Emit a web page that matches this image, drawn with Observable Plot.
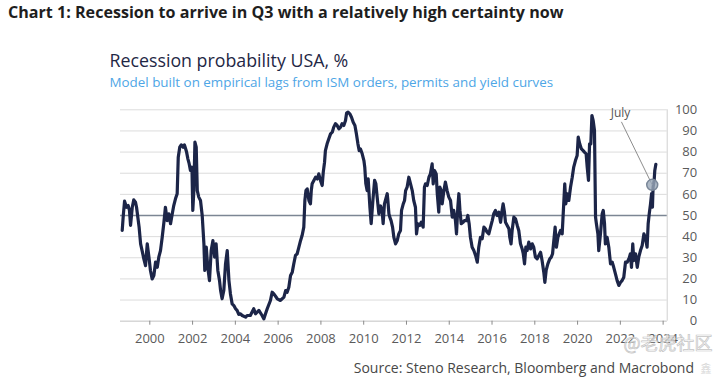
<!DOCTYPE html>
<html><head><meta charset="utf-8">
<script src="https://cdn.jsdelivr.net/npm/d3@7"></script>
<script src="https://cdn.jsdelivr.net/npm/@observablehq/plot@0.6"></script>
<style>
html,body{margin:0;padding:0;background:#fff;}
#chart{width:720px;height:384px;overflow:hidden;}
</style></head><body>
<div id="chart"></div>
<script>
const titleText = "Chart 1: Recession to arrive in Q3 with a relatively high certainty now";
const subtitleText = "Recession probability USA, %";
const noteText = "Model built on empirical lags from ISM orders, permits and yield curves";
const sourceText = "Source: Steno Research, Bloomberg and Macrobond";
const watermarkText = "@老虎社区";

const xDomain = [1998.63, 2024.19];
const xTicks = [2000, 2002, 2004, 2006, 2008, 2010, 2012, 2014, 2016, 2018, 2020, 2022, 2024];
const yTicks = [0, 10, 20, 30, 40, 50, 60, 70, 80, 90, 100];
const threshold = 50;

const years = [
1998.71,1998.76,1998.82,1998.91,1998.99,1999.05,1999.10,1999.18,1999.25,1999.33,1999.38,1999.44,1999.50,1999.57,1999.64,1999.72,1999.80,1999.88,1999.96,
2000.03,2000.11,2000.19,2000.27,2000.35,2000.42,2000.50,2000.58,2000.66,2000.73,2000.81,2000.89,2000.97,
2001.05,2001.12,2001.20,2001.28,2001.33,2001.40,2001.47,2001.56,2001.62,2001.72,2001.78,2001.84,2001.90,2001.97,
2002.01,2002.06,2002.11,2002.17,2002.22,2002.29,2002.37,2002.45,2002.53,2002.57,2002.64,2002.71,2002.79,2002.87,2002.95,
2003.03,2003.10,2003.18,2003.26,2003.31,2003.38,2003.46,2003.54,2003.62,2003.70,2003.77,2003.85,2003.93,
2004.01,2004.08,2004.16,2004.24,2004.32,2004.48,2004.55,2004.70,2004.86,2004.94,
2005.10,2005.25,2005.33,2005.41,2005.49,2005.64,2005.72,2005.80,2005.96,
2006.11,2006.27,2006.35,2006.42,2006.50,2006.58,2006.66,2006.73,2006.81,2006.89,2006.97,
2007.05,2007.12,2007.20,2007.25,2007.30,2007.36,2007.44,2007.51,2007.55,2007.59,2007.67,2007.75,2007.83,2007.90,2007.98,
2008.06,2008.11,2008.17,2008.21,2008.29,2008.37,2008.45,2008.53,2008.60,2008.68,2008.76,2008.84,2008.92,2008.99,
2009.07,2009.15,2009.20,2009.27,2009.35,2009.43,2009.51,2009.59,2009.66,2009.73,2009.79,2009.85,2009.93,
2010.01,2010.05,2010.10,2010.16,2010.21,2010.29,2010.35,2010.43,2010.51,2010.57,2010.63,2010.71,2010.79,2010.86,2010.91,2010.97,
2011.10,2011.13,2011.18,2011.22,2011.28,2011.35,2011.41,2011.49,2011.57,2011.64,2011.72,2011.77,2011.85,2011.91,2011.96,
2012.03,2012.11,2012.19,2012.27,2012.34,2012.42,2012.47,2012.53,2012.62,2012.69,2012.78,2012.84,2012.89,2012.97,
2013.05,2013.12,2013.20,2013.25,2013.31,2013.39,2013.44,2013.51,2013.56,2013.62,2013.67,2013.75,2013.82,2013.90,2013.98,
2014.06,2014.14,2014.21,2014.29,2014.34,2014.40,2014.45,2014.50,2014.56,2014.65,2014.71,2014.81,2014.87,2014.93,2014.99,
2015.07,2015.15,2015.23,2015.31,2015.38,2015.46,2015.54,2015.62,2015.69,2015.77,2015.85,2015.93,
2016.01,2016.08,2016.16,2016.24,2016.32,2016.40,2016.47,2016.52,2016.58,2016.63,2016.71,2016.79,2016.83,2016.89,2016.94,
2017.02,2017.10,2017.18,2017.25,2017.33,2017.41,2017.46,2017.52,2017.58,2017.64,2017.72,2017.80,2017.88,2017.95,
2018.03,2018.11,2018.19,2018.27,2018.34,2018.42,2018.47,2018.53,2018.61,2018.70,2018.77,2018.83,2018.89,2018.95,
2019.01,2019.08,2019.14,2019.20,2019.28,2019.36,2019.40,2019.45,2019.51,2019.59,2019.67,2019.75,2019.82,2019.90,2019.98,
2020.03,2020.10,2020.18,2020.26,2020.32,2020.40,2020.45,2020.51,2020.56,2020.62,2020.67,2020.73,2020.79,2020.84,2020.88,2020.95,2020.99,
2021.07,2021.15,2021.20,2021.26,2021.30,2021.38,2021.46,2021.54,2021.62,2021.69,2021.77,2021.85,2021.93,
2022.01,2022.08,2022.16,2022.24,2022.32,2022.40,2022.47,2022.52,2022.58,2022.63,2022.71,2022.79,2022.86,2022.94,
2023.02,2023.10,2023.17,2023.25,2023.30,2023.35,2023.41,2023.46,2023.50,2023.53,2023.58,2023.61,2023.66
];
const probability = [
42.9,50.0,56.8,53.9,54.7,52.3,45.3,53.9,57.4,56.3,53.9,49.2,44.5,36.6,33.4,29.5,26.3,36.6,30.3,
24.0,20.0,21.6,28.0,25.5,30.3,33.4,39.7,46.8,53.9,47.6,50.8,46.1,
50.8,54.7,57.9,60.3,77.6,82.3,83.4,82.3,83.4,80.0,76.8,74.5,71.3,72.9,
52.4,61.8,84.7,82.3,61.8,58.7,57.1,50.0,36.6,24.0,35.0,25.5,19.2,33.4,38.1,
30.3,36.6,24.0,19.2,14.5,10.6,14.5,27.1,33.4,19.2,12.9,8.2,7.4,
5.9,5.1,3.2,3.5,2.7,1.9,2.7,2.7,5.9,3.5,
5.1,2.7,1.1,3.5,5.9,9.8,13.7,12.9,10.6,
9.8,11.4,14.5,13.7,16.1,21.6,23.2,27.1,31.1,31.9,35.0,
38.2,40.5,44.5,57.1,61.8,62.6,57.1,55.5,61.8,65.0,66.6,68.1,67.3,69.7,66.6,
64.2,70.5,75.2,80.7,83.9,86.3,88.6,89.4,91.8,93.4,92.6,91.0,91.8,93.4,
92.6,94.9,98.4,98.9,98.1,96.5,94.1,92.6,88.6,83.9,80.7,81.5,79.2,
76.0,72.9,65.0,61.8,67.3,53.9,46.1,57.1,66.6,65.0,58.7,50.8,54.5,52.4,46.1,55.5,
60.3,57.1,50.8,49.2,47.6,44.5,39.7,36.6,38.2,41.3,42.9,52.4,55.5,57.1,61.8,
63.4,68.1,65.0,61.8,57.1,53.9,41.3,46.1,45.3,46.8,44.5,63.4,65.0,64.2,
68.1,69.7,74.4,65.0,71.3,69.7,60.3,51.6,63.4,61.8,55.5,61.8,65.8,61.8,58.7,
57.1,49.2,52.4,47.6,41.3,53.9,60.3,52.4,46.1,46.8,47.6,47.6,50.0,46.1,39.7,
35.0,33.4,31.1,27.9,35.0,39.7,39.0,44.5,43.7,42.1,41.3,44.5,
47.6,50.8,52.4,50.0,51.6,46.8,52.4,55.5,51.6,46.8,45.3,43.7,39.7,36.6,42.9,
49.2,48.4,45.3,42.9,36.6,34.2,31.9,27.1,35.0,33.4,37.4,34.2,36.6,35.0,
30.3,29.5,31.1,32.6,28.7,23.2,18.4,24.0,27.1,29.5,30.3,31.9,38.2,44.5,
35.0,39.7,41.3,42.9,41.3,57.1,65.0,55.5,60.3,57.1,63.4,68.1,72.9,76.0,78.4,
87.1,83.9,81.5,80.7,80.0,79.2,72.9,66.6,83.9,83.9,97.3,94.9,90.2,49.2,46.1,41.3,33.4,
41.3,50.8,52.4,46.1,36.6,39.7,35.0,27.1,27.9,25.5,22.4,19.2,16.9,
18.4,19.2,20.8,27.9,27.9,29.5,31.9,25.5,36.6,28.7,31.9,25.5,30.3,33.4,
35.8,41.3,39.7,35.0,46.1,50.8,55.5,60.3,53.9,63.4,66.6,71.3,74.2
];

// annotation "July"
const julyLabel = "July";
const julyPoint = {year: 2023.49, value: 64.5};
const julyTextPos = {year: 2022.01, value: 98.6};
const julyLineStart = {year: 2022.05, value: 94.3};

const data = years.map((y, i) => ({year: y, value: probability[i]}));

const chart = Plot.plot({
  width: 720,
  height: 384,
  marginLeft: 120,
  marginRight: 53.3,
  marginTop: 109.3,
  marginBottom: 63.3,
  x: {domain: xDomain, label: null},
  y: {domain: [0, 100], label: null},
  style: {fontFamily: "'Open Sans', sans-serif", fontSize: "13px", color: "#5a5a5a", background: "#fff", overflow: "visible"},
  marks: [
    Plot.gridY(yTicks, {stroke: "#dcdcdc", strokeOpacity: 1}),
    Plot.ruleY([0], {stroke: "#d0d0d0"}),
    Plot.ruleX([xDomain[1]], {stroke: "#d0d0d0"}),
    Plot.ruleY([threshold], {stroke: "#7c8694", strokeWidth: 1.6}),
    Plot.axisY(yTicks, {anchor: "right", tickSize: 0, tickPadding: 30, textAnchor: "end", fill: "#5a5a5a"}),
    Plot.axisX(xTicks, {anchor: "bottom", tickSize: 4, tickPadding: 9, tickFormat: d => String(d), stroke: "#8a8a8a", fill: "#5a5a5a"}),
    Plot.line(data, {x: "year", y: "value", stroke: "#1c2548", strokeWidth: 3.2, strokeLinejoin: "round", strokeLinecap: "round"}),
    Plot.link([{x1: julyLineStart.year, y1: julyLineStart.value, x2: julyPoint.year, y2: julyPoint.value}],
      {x1: "x1", y1: "y1", x2: "x2", y2: "y2", stroke: "#8d8d8d", strokeWidth: 1}),
    Plot.dot([julyPoint], {x: "year", y: "value", r: 5.5, fill: "#9aa7b8", fillOpacity: 0.8, stroke: "#7a8798", strokeWidth: 1.5}),
    Plot.text([julyTextPos], {x: "year", y: "value", text: () => julyLabel, fontSize: 12, fill: "#555", textAnchor: "middle"})
  ]
});

document.getElementById("chart").appendChild(chart);
const svg = d3.select(chart);
const addText = (txt, x, y, attrs) => {
  const t = svg.append("text").attr("x", x).attr("y", y).attr("text-anchor", "start").text(txt);
  for (const k in attrs) t.attr(k, attrs[k]);
  return t;
};
addText(titleText, 8, 17.5, {"font-family": "'Open Sans', sans-serif", "font-size": 16.1, "font-weight": 700, fill: "#1e1e1e"});
addText(subtitleText, 109.5, 66.5, {"font-family": "'Open Sans', sans-serif", "font-size": 17.8, fill: "#1f2745"});
addText(noteText, 109.5, 87.3, {"font-family": "'Open Sans', sans-serif", "font-size": 13.4, fill: "#4ea6e6"});
addText(watermarkText, 668, 350, {"font-family": "'Noto Sans CJK SC', sans-serif", "font-size": 18, fill: "#ffffff", "fill-opacity": 0.5, stroke: "#c4c4c4", "stroke-width": 0.7, "text-anchor": "middle"});
addText(sourceText, 694, 372.5, {"font-family": "'Open Sans', sans-serif", "font-size": 14, fill: "#474747", "text-anchor": "end"});
addText("鑫", 706, 373, {"font-family": "'Noto Sans CJK SC', sans-serif", "font-size": 11, fill: "#d8d8d8", "text-anchor": "middle"});
</script>
</body></html>
